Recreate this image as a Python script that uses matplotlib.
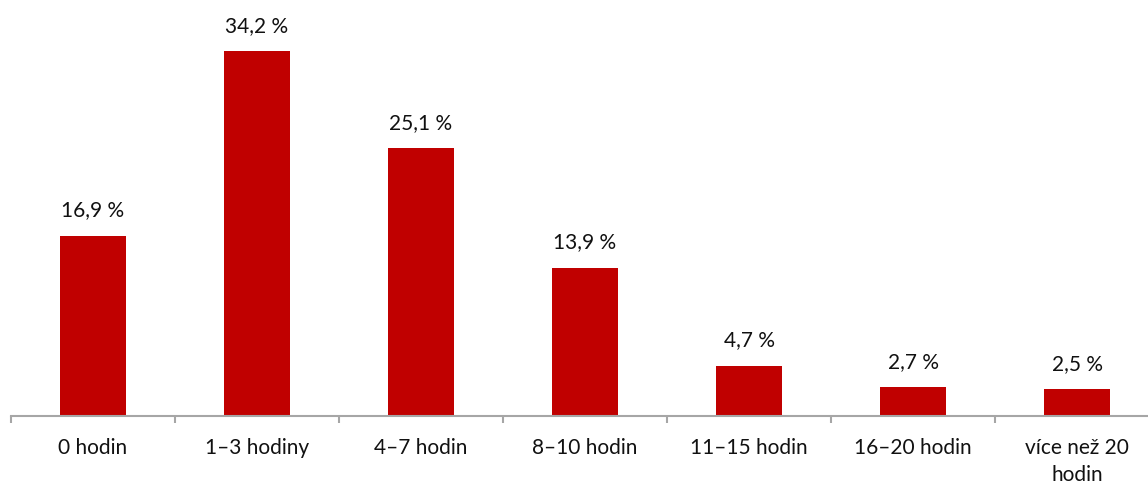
import matplotlib
matplotlib.use('agg')
import matplotlib.pyplot as plt

categories = ["0 hodin", "1–3 hodiny", "4–7 hodin", "8–10 hodin",
              "11–15 hodin", "16–20 hodin", "více než 20\nhodin"]
values = [16.9, 34.2, 25.1, 13.9, 4.7, 2.7, 2.5]
labels = ["16,9 %", "34,2 %", "25,1 %", "13,9 %", "4,7 %", "2,7 %", "2,5 %"]

plt.rcParams['font.family'] = ['Lato', 'DejaVu Sans']

W, H = 1148, 488
fig = plt.figure(figsize=(W / 100, H / 100), dpi=100)
# axes runs a bit past the right edge, like the original
ax = fig.add_axes([11 / W, (H - 416) / H, 7 * 164 / W, 416 / H])

x = list(range(len(categories)))
ax.bar(x, values, width=0.4, color="#C00000")
for xi, v, lab in zip(x, values, labels):
    ax.annotate(lab, (xi, v), xytext=(0, 14), textcoords="offset points",
                ha="center", va="baseline", fontsize=15, color="#111111")

ax.set_xlim(-0.5, len(categories) - 0.5)
ax.set_ylim(0, 416 / 10.67)

for s in ["top", "right", "left"]:
    ax.spines[s].set_visible(False)
ax.spines["bottom"].set_color("#A6A6A6")
ax.spines["bottom"].set_linewidth(1.5)
ax.set_yticks([])

ax.set_xticks([i - 0.5 for i in range(len(categories) + 1)], minor=False)
ax.set_xticklabels([])
ax.tick_params(axis="x", which="major", length=5, width=1.5, color="#A6A6A6")
ax.set_xticks(x, minor=True)
ax.set_xticklabels(categories, minor=True, fontsize=15, color="#111111", linespacing=1.4)
ax.tick_params(axis="x", which="minor", length=0, pad=16)

fig.savefig("out.png", dpi=100)
